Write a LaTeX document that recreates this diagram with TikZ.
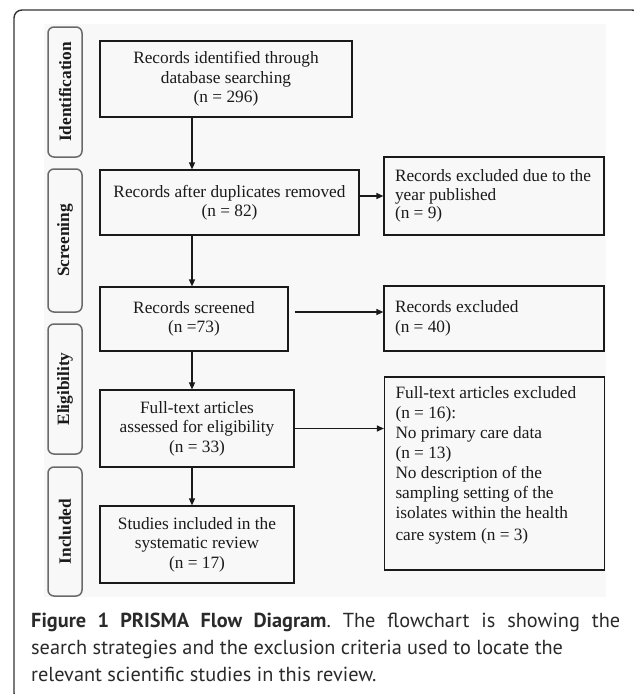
\documentclass[tikz,border=0pt]{standalone}
\usepackage{fontspec}
\setmainfont{Liberation Serif}
\newfontfamily\capfont{PT Sans}
\usetikzlibrary{arrows.meta,calc}
\definecolor{framec}{HTML}{333333}
\definecolor{labc}{HTML}{6A6A6A}
\definecolor{panel}{HTML}{F8F8F8}
\definecolor{inkc}{HTML}{1A1A1A}
\definecolor{capc}{HTML}{2A2A2A}
\newcommand{\exlines}[1]{\makebox[198pt][l]{\begin{tabular}{@{}l@{}}#1\end{tabular}}}
\begin{document}
\begin{tikzpicture}[x=1pt,y=-1pt,
  box/.style={draw=inkc, line width=1.2pt, inner sep=0pt, align=center, text=inkc,
    font=\fontsize{17.3}{19.5}\selectfont},
  exbox/.style={draw=inkc, line width=1.2pt, inner xsep=11pt, inner ysep=0pt,
    minimum width=220pt, text=inkc, font=\fontsize{17.3}{19.5}\selectfont},
  phase/.style={draw=labc, line width=1.5pt, rounded corners=6pt, rotate=90,
    minimum height=34pt, inner sep=0pt, text=inkc, font=\bfseries\fontsize{17.3}{19}\selectfont},
  arr/.style={draw=inkc, line width=1.2pt, -{Triangle[length=7pt,width=6pt]}},
  capline/.style={anchor=base west, inner sep=0pt, text=capc, font=\capfont\fontsize{20.3}{27}\selectfont\frenchspacing}]
\useasboundingbox (0,0) rectangle (633,694);
% outer frame and panel
\draw[framec, line width=1.4pt, rounded corners=8pt] (14,10) rectangle (640,701);
\fill[panel] (44,24) rectangle (606,597);
% phase labels
\node[phase, minimum width=130pt] (pid) at (65,92) {Identification};
\node[phase, minimum width=143pt] (psc) at (65,240.5) {Screening};
\node[phase, minimum width=130pt] (pel) at (65,389) {Eligibility};
\node[phase, minimum width=129pt] (pin) at (65,531.5) {Included};
% main boxes
\node[box, minimum width=252pt, minimum height=76pt] (b1) at (226,79)
  {Records identified through\\database searching\\(n = 296)};
\node[box, minimum width=259pt, minimum height=65pt] (b2) at (229.5,202.5)
  {Records after duplicates removed\\(n = 82)};
\node[box, minimum width=188pt, minimum height=64pt] (b3) at (194,319)
  {Records screened\\(n =73)};
\node[box, minimum width=194pt, minimum height=77pt] (b4) at (197,428.5)
  {Full-text articles\\assessed for eligibility\\(n = 33)};
\node[box, minimum width=194pt, minimum height=77pt] (b5) at (197,544.5)
  {Studies included in the\\systematic review\\(n = 17)};
% exclusion boxes
\node[exbox, minimum height=78pt] (e1) at (494,196)
  {\exlines{Records excluded due to the\\year published\\[-2pt](n = 9)}};
\node[exbox, minimum height=65pt] (e2) at (494,318.5)
  {\exlines{Records excluded\\[1pt](n = 40)}};
\node[exbox, minimum height=193pt] (e3) at (494.5,473.5)
  {\parbox[c][175pt][t]{198pt}{\fontsize{17.3}{20}\selectfont
   Full-text articles excluded\\(n = 16):\\No primary care data\\(n = 13)\\No description of the\\sampling setting of the\\isolates within the health\\[2pt]care system (n = 3)}};
% connectors
\coordinate (ax) at (192,0);
\draw[arr] (b1.south -| ax) -- (b2.north -| ax);
\draw[arr] (b2.south -| ax) -- (b3.north -| ax);
\draw[arr] (b3.south -| ax) -- (b4.north -| ax);
\draw[arr] (b4.south -| ax) -- (b5.north -| ax);
\draw[arr] ([yshift=6.5pt]b2.east) -- ([yshift=6.5pt]b2.east -| e1.west);
\draw[arr] ([shift={(6pt,7pt)}]b3.east) -- ([yshift=7pt]b3.east -| e2.west);
\draw[arr] (b4.east) -- (b4.east -| e3.west);
% caption
\node[capline] (c1) at (31,627) {\makebox[589pt][s]{\textbf{Figure 1 PRISMA Flow Diagram}. The flowchart is showing the}};
\node[capline] (c2) at (31,654) {search strategies and the exclusion criteria used to locate the};
\node[capline] (c3) at (31,681) {relevant scientific studies in this review.};
\end{tikzpicture}
\end{document}
